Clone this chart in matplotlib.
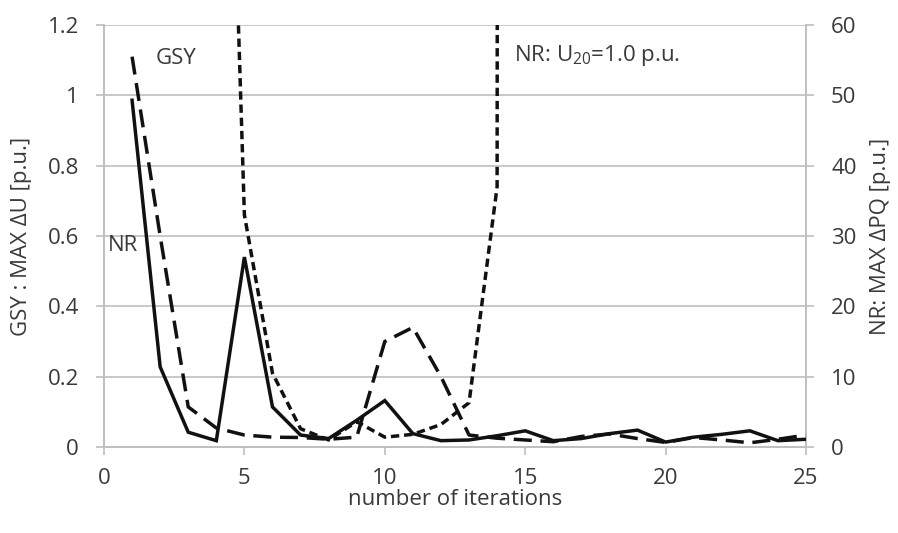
import matplotlib
matplotlib.use("Agg")
import matplotlib.pyplot as plt
from matplotlib.ticker import FuncFormatter

plt.rcParams['font.family'] = ['Open Sans', 'DejaVu Sans']
plt.rcParams['mathtext.fontset'] = 'custom'
plt.rcParams['mathtext.rm'] = 'Open Sans'
plt.rcParams['mathtext.default'] = 'regular'

# ---- data ----
iterations = list(range(1, 26))
# NR: MAX dPQ (right axis), solid line
nr_dpq = [49.3, 11.4, 2.1, 0.9, 27.0, 5.7, 1.7, 1.2, 3.8, 6.6, 1.9, 0.9, 1.0,
          1.6, 2.3, 0.9, 1.2, 1.9, 2.4, 0.7, 1.4, 1.8, 2.3, 0.9, 1.1]
# GSY: MAX dU (left axis), long dashed line
gsy_du = [1.11, 0.60, 0.114, 0.054, 0.034, 0.028, 0.027, 0.022, 0.028, 0.30,
          0.34, 0.20, 0.034, 0.025, 0.020, 0.015, 0.030, 0.037, 0.024, 0.013,
          0.027, 0.020, 0.012, 0.022, 0.034]
# NR with U20 = 1.0 p.u. (right axis), short dashed line (diverges)
nr_u20_iter = list(range(1, 16))
nr_u20 = [400, 300, 220, 160, 33, 10.5, 2.6, 1.0, 3.6, 1.4, 1.8, 3.2, 6.3, 37, 5000]

left_ticks = [0, 0.2, 0.4, 0.6, 0.8, 1.0, 1.2]
right_ticks = [0, 10, 20, 30, 40, 50, 60]
x_ticks = [0, 5, 10, 15, 20, 25]

text_color = '#3a3a3a'
grid_color = '#bfbfbf'
fs = 16
lw = 2.5

fig = plt.figure(figsize=(8.98, 5.33), dpi=100)
ax = fig.add_axes([104/898, 1-447/533, (806-104)/898, (447-25)/533])
ax2 = ax.twinx()

# lines
ax.plot(iterations, gsy_du, color='#111111', lw=lw, dashes=(5.2, 2.5), zorder=3)
ax2.plot(iterations, nr_dpq, color='#111111', lw=lw, solid_joinstyle='miter', zorder=3)
ax2.plot(nr_u20_iter, nr_u20, color='#111111', lw=lw, dashes=(2.4, 1.4), zorder=3)

ax.set_xlim(0, 25)
ax.set_ylim(0, 1.2)
ax2.set_ylim(0, 60)
ax.set_xticks(x_ticks)
ax.set_yticks(left_ticks)
ax2.set_yticks(right_ticks)
ax.yaxis.set_major_formatter(FuncFormatter(lambda v, p: f"{v:g}"))
ax2.yaxis.set_major_formatter(FuncFormatter(lambda v, p: f"{v:g}"))

ax.grid(axis='y', color=grid_color, lw=1.2)
ax.set_axisbelow(True)

for a in (ax, ax2):
    a.spines['top'].set_visible(False)
    for s in ('left', 'right', 'bottom'):
        a.spines[s].set_color(grid_color)
        a.spines[s].set_linewidth(1.2)
    a.tick_params(colors=grid_color, labelcolor=text_color, labelsize=fs,
                  length=6, width=1.2, direction='out')
ax.tick_params(axis='y', pad=12)
ax2.tick_params(axis='y', pad=12)
ax.tick_params(axis='x', pad=9)

ax.set_xlabel('number of iterations', fontsize=fs, color=text_color)
ax.xaxis.set_label_coords(0.5, -0.1)
ax.set_ylabel('GSY : MAX ΔU [p.u.]', fontsize=fs, color=text_color)
ax.yaxis.set_label_coords(-0.103, 0.5)
ax2.set_ylabel('NR: MAX ΔPQ [p.u.]', fontsize=fs, color=text_color, rotation=90)
ax2.yaxis.set_label_coords(1.091, 0.5)

ax.text(1.85, 1.105, 'GSY', fontsize=fs, color=text_color, va='center', ha='left')
ax.text(0.15, 0.574, 'NR', fontsize=fs, color=text_color, va='center', ha='left')
ax.text(14.6, 1.114, 'NR: U$_{20}$=1.0 p.u.', fontsize=fs, color=text_color,
        va='center', ha='left')

fig.savefig('out.png', dpi=100)
